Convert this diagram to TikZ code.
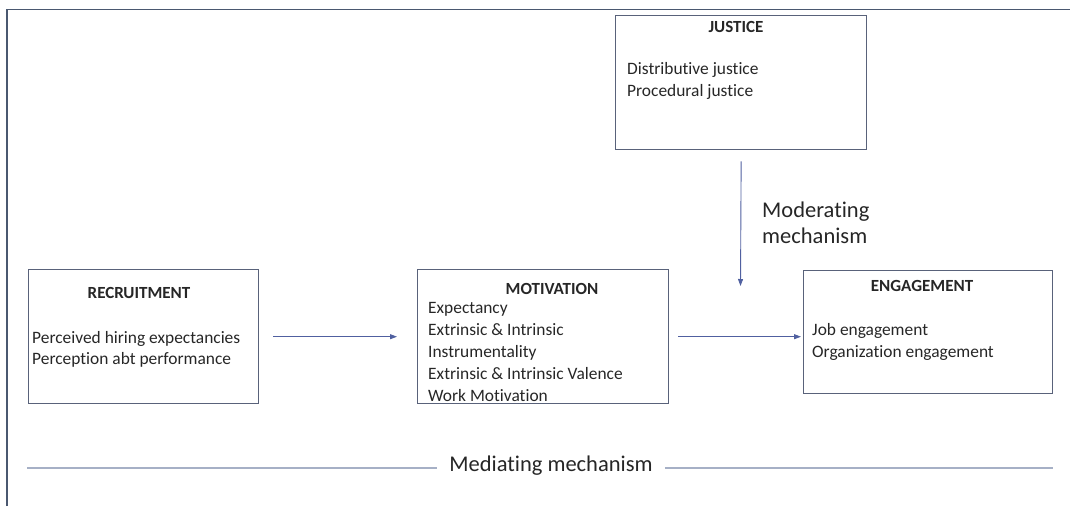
\documentclass[tikz,border=0pt]{standalone}
\usepackage{fontspec}
\setmainfont{Carlito}[Ligatures=NoCommon]
\usetikzlibrary{arrows.meta}

\definecolor{frameC}{HTML}{4A5870}
\definecolor{boxC}{HTML}{59627A}
\definecolor{arrowC}{HTML}{5060A0}
\definecolor{medC}{HTML}{A6B0C6}
\definecolor{txtC}{HTML}{262626}

\tikzset{
  box/.style={draw=boxC, line width=1.4pt, fill=none, inner sep=0pt, anchor=north west},
  title/.style={font=\fontsize{17}{22}\selectfont\bfseries, text=txtC, inner sep=0pt, anchor=base},
  body/.style={font=\fontsize{17.4}{22}\selectfont, text=txtC, inner sep=0pt, anchor=base west},
  big/.style={font=\fontsize{22.5}{27}\selectfont, text=txtC, inner sep=0pt},
  arr/.style={draw=arrowC, line width=0.9pt, -{Triangle[length=7pt,width=5pt]}},
}

\begin{document}
\begin{tikzpicture}[x=1pt, y=-1pt]
\useasboundingbox (0,0) rectangle (1070,506);

% outer frame (left and top edges)
\coordinate (fBL) at (7,506);
\coordinate (fTL) at (7,9.5);
\coordinate (fTR) at (1070,9.5);
\draw[frameC, line width=1.5pt] (fBL) -- (fTL) -- (fTR);

% boxes
\node[box, minimum width=251pt, minimum height=134pt] (just) at (615,15) {};
\node[box, minimum width=230pt, minimum height=134pt] (rec) at (28,269) {};
\node[box, minimum width=251pt, minimum height=134pt] (mot) at (417,269) {};
\node[box, minimum width=249pt, minimum height=123pt] (eng) at (803,270) {};

% justice
\node[title] (justT) at (736,32) {JUSTICE};
\foreach \t [count=\i] in {Distributive justice, Procedural justice}
  \node[body] (justB-\i) at (627,{74+22*(\i-1)}) {\t};

% recruitment
\node[title] (recT) at (139,298) {RECRUITMENT};
\foreach \t [count=\i] in {Perceived hiring expectancies, Perception abt performance}
  \node[body] (recB-\i) at (32,{343+21*(\i-1)}) {\t};

% motivation
\node[title] (motT) at (552,294) {MOTIVATION};
\foreach \t [count=\i] in {Expectancy, Extrinsic \& Intrinsic, Instrumentality,
    Extrinsic \& Intrinsic Valence, Work Motivation}
  \node[body] (motB-\i) at (428,{313+22*(\i-1)}) {\t};

% engagement
\node[title] (engT) at (922,291) {ENGAGEMENT};
\foreach \t [count=\i] in {Job engagement, Organization engagement}
  \node[body] (engB-\i) at (812,{335+22*(\i-1)}) {\t};

% moderating label and arrow
\node[big, anchor=base west] (mod1) at (762,217) {Moderating};
\node[big, anchor=base west] (mod2) at (762,243) {mechanism};
\coordinate (modTip) at (740.5,286);
\draw[arr, shorten <=11pt] (just.south) -- (modTip);

% main chain
\draw[arr, shorten <=14pt, shorten >=20pt] (rec.east) -- (mot.west);
\draw[arr, shorten <=9pt, shorten >=2pt] (mot.east) -- (mot.east -| eng.west);

% mediating mechanism line
\node[big, inner xsep=12pt, anchor=center] (med) at (551,466) {Mediating mechanism};
\coordinate (medL) at (27,468);
\coordinate (medR) at (1053,468);
\draw[medC, line width=1.3pt] (medL) -- (med.west |- medL);
\draw[medC, line width=1.3pt] (med.east |- medR) -- (medR);
\end{tikzpicture}
\end{document}
